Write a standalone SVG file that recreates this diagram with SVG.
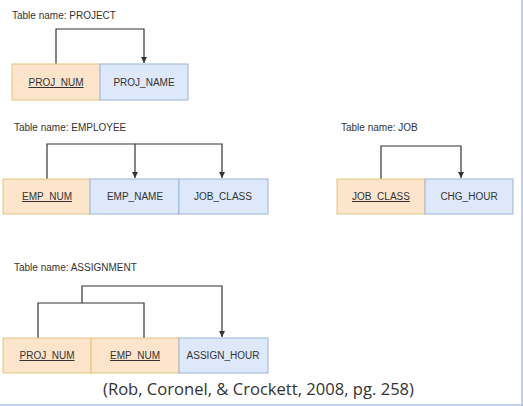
<svg xmlns="http://www.w3.org/2000/svg" width="523" height="406" viewBox="0 0 523 406">
<defs>
<style>
.pk{fill:#fce5cb;stroke:#e3c67e;stroke-width:1}
.at{fill:#dde8fb;stroke:#9db4d8;stroke-width:1}
.t{font-family:"Liberation Sans",Arial,sans-serif;font-size:10px;fill:#333}
.c{text-anchor:middle}
.u{text-decoration:underline}
.ln{fill:none;stroke:#333;stroke-width:1.2}
</style>
<marker id="ah" viewBox="0 0 10 10" refX="10" refY="5" markerWidth="6" markerHeight="6" orient="auto" markerUnits="userSpaceOnUse">
<path d="M0,0 L10,5 L0,10 Z" fill="#333"/>
</marker>
</defs>
<rect width="523" height="406" fill="#fff"/>
<line x1="522" y1="0" x2="522" y2="406" stroke="#aac4e8" stroke-width="1.5"/>
<line x1="0" y1="405" x2="523" y2="405" stroke="#aac4e8" stroke-width="1.5"/>

<g id="connectors">
<path class="ln" d="M56,64 V29 H144 V63" marker-end="url(#ah)"/>
<path class="ln" d="M47,179 V144 H135 V178" marker-end="url(#ah)"/>
<path class="ln" d="M135,144 H222 V178" marker-end="url(#ah)"/>
<path class="ln" d="M381,179 V146 H461 V178" marker-end="url(#ah)"/>
<path class="ln" d="M38,338 V303 H144 V338"/>
<path class="ln" d="M82,303 V286 H222 V337" marker-end="url(#ah)"/>
</g>

<g id="project">
<text class="t" x="12" y="19">Table name: PROJECT</text>
<rect class="pk" x="12" y="64" width="88" height="36"/>
<rect class="at" x="100" y="64" width="88" height="36"/>
<text class="t c u" x="56" y="86">PROJ_NUM</text>
<text class="t c" x="144" y="86">PROJ_NAME</text>
</g>

<g id="employee">
<text class="t" x="14" y="131">Table name: EMPLOYEE</text>
<rect class="pk" x="3" y="179" width="87" height="35"/>
<rect class="at" x="90" y="179" width="89" height="35"/>
<rect class="at" x="179" y="179" width="89" height="35"/>
<text class="t c u" x="47" y="200">EMP_NUM</text>
<text class="t c" x="135" y="200">EMP_NAME</text>
<text class="t c" x="223" y="200">JOB_CLASS</text>
</g>

<g id="job">
<text class="t" x="341" y="131">Table name: JOB</text>
<rect class="pk" x="337" y="179" width="88" height="35"/>
<rect class="at" x="425" y="179" width="88" height="35"/>
<text class="t c u" x="381" y="200">JOB_CLASS</text>
<text class="t c" x="469" y="200">CHG_HOUR</text>
</g>

<g id="assignment">
<text class="t" x="14" y="271">Table name: ASSIGNMENT</text>
<rect class="pk" x="3" y="338" width="88" height="35"/>
<rect class="pk" x="91" y="338" width="88" height="35"/>
<rect class="at" x="179" y="338" width="89" height="35"/>
<text class="t c u" x="47" y="359">PROJ_NUM</text>
<text class="t c u" x="135" y="359">EMP_NUM</text>
<text class="t c" x="223" y="359">ASSIGN_HOUR</text>
</g>

<text x="103" y="395" font-family="'Open Sans','Noto Sans',sans-serif" font-size="16" fill="#333" textLength="311" lengthAdjust="spacingAndGlyphs">(Rob, Coronel, &amp; Crockett, 2008, pg. 258)</text>
</svg>
